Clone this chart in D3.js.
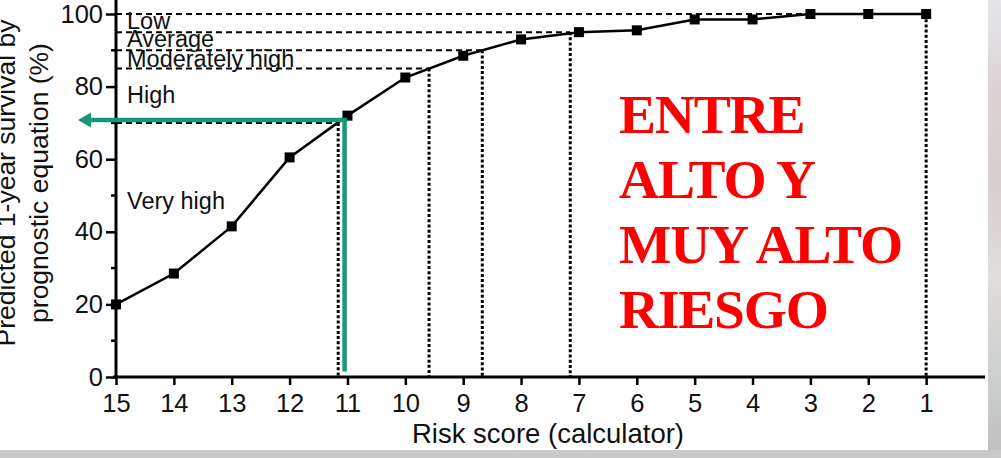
<!DOCTYPE html>
<html>
<head>
<meta charset="utf-8">
<script src="https://cdn.jsdelivr.net/npm/d3@7"></script>
<style>
  html, body { margin: 0; padding: 0; background: #d9d9d9; overflow: hidden; }
  svg { display: block; }
</style>
</head>
<body>
<svg id="chart" width="1001" height="458"></svg>
<script>
// ---- data ----
const riskScores = [15, 14, 13, 12, 11, 10, 9, 8, 7, 6, 5, 4, 3, 2, 1];
const survival   = [20, 28.5, 41.5, 60.5, 72, 82.5, 88.5, 93, 95, 95.5, 98.5, 98.5, 100, 100, 100];
const yMajorTicks = [0, 20, 40, 60, 80, 100];
const yMinorTicks = [10, 30, 50, 70, 90];
// cut-off thresholds (survival %) and the risk score where the curve crosses them
const cutSurvival = [70, 85, 90, 95, 100];
const cutScore    = [11.16, 9.59, 8.67, 7.15, 1];
const riskLabels  = ["Low", "Average", "Moderately high", "High", "Very high"];
const riskLabelY  = [95.9, 90.9, 85.4, 75.5, 46.3];
const highlightScore = 11.05;
const highlightSurvival = 70.8;
const noteLines = ["ENTRE", "ALTO Y", "MUY ALTO", "RIESGO"];
const xTitle = "Risk score (calculator)";
const yTitle = ["Predicted 1-year survival by", "prognostic equation (%)"];

// ---- layout ----
const svg = d3.select("#chart");
const W = 1001, H = 458;
const mLeft = 116, mRight = 984, mTop = 14, mBottom = 377;

const x = d3.scaleLinear().domain([15, 0]).range([mLeft, mRight]);
const y = d3.scaleLinear().domain([0, 100]).range([mBottom, mTop]);

const FONT = "'Liberation Sans', Arial, Helvetica, sans-serif";

// background: grey photo around a white card
const defs = svg.append("defs");
const g1 = defs.append("linearGradient").attr("id", "bgR").attr("x1", 0).attr("y1", 0).attr("x2", 0).attr("y2", 1);
[["0%", "#e4e6ea"], ["20%", "#dcd2d4"], ["40%", "#d6cfcf"], ["60%", "#e0ddda"], ["80%", "#cfd1d1"], ["100%", "#bfbfbf"]]
  .forEach(s => g1.append("stop").attr("offset", s[0]).attr("stop-color", s[1]));
svg.append("rect").attr("x", 0).attr("y", 0).attr("width", W).attr("height", H).attr("fill", "url(#bgR)");
svg.append("rect").attr("x", 0).attr("y", 450).attr("width", W).attr("height", 8).attr("fill", "#c9c9c9");
svg.append("rect").attr("x", 0).attr("y", 0).attr("width", 988).attr("height", 450).attr("fill", "#ffffff");

// ---- reference lines ----
const refG = svg.append("g");
cutSurvival.forEach((s, i) => {
  refG.append("line")
    .attr("x1", mLeft).attr("x2", x(cutScore[i]))
    .attr("y1", y(s)).attr("y2", y(s))
    .attr("stroke", "#000").attr("stroke-width", 2)
    .attr("stroke-dasharray", "6,4");
  refG.append("line")
    .attr("x1", x(cutScore[i])).attr("x2", x(cutScore[i]))
    .attr("y1", y(s)).attr("y2", mBottom)
    .attr("stroke", "#000").attr("stroke-width", 3)
    .attr("stroke-dasharray", "3,2.2");
});

// risk labels
riskLabels.forEach((t, i) => {
  svg.append("text")
    .attr("x", 127).attr("y", y(riskLabelY[i]))
    .attr("font-family", FONT).attr("font-size", 23.5)
    .attr("fill", "#111")
    .text(t);
});

// ---- axes ----
const yAxis = d3.axisLeft(y).tickValues(yMajorTicks).tickSize(10).tickPadding(3).tickSizeOuter(0);
const yg = svg.append("g").attr("transform", `translate(${mLeft},0)`).call(yAxis);
yg.select(".domain").remove();
yg.selectAll(".tick line").attr("stroke", "#000").attr("stroke-width", 2.5);
yg.selectAll(".tick text").attr("font-family", FONT).attr("font-size", 25.5).attr("fill", "#111");
yg.append("line").attr("x1", 0).attr("x2", 0).attr("y1", y(104)).attr("y2", mBottom + 1.5)
  .attr("stroke", "#000").attr("stroke-width", 3);
yg.selectAll(".minor").data(yMinorTicks).enter().append("line")
  .attr("x1", -5).attr("x2", 0).attr("y1", d => y(d)).attr("y2", d => y(d))
  .attr("stroke", "#000").attr("stroke-width", 2.5);

const xAxis = d3.axisBottom(x).tickValues(riskScores).tickFormat(d3.format("d")).tickSize(8).tickSizeOuter(0);
const xg = svg.append("g").attr("transform", `translate(0,${mBottom})`).call(xAxis);
xg.select(".domain").remove();
xg.append("line").attr("x1", mLeft - 3).attr("x2", mRight + 1).attr("y1", 0).attr("y2", 0)
  .attr("stroke", "#000").attr("stroke-width", 3);
xg.selectAll(".tick line").attr("stroke", "#000").attr("stroke-width", 2.5);
xg.selectAll(".tick text").attr("font-family", FONT).attr("font-size", 25.5).attr("fill", "#111")
  .attr("dy", 0).attr("y", 35);

// axis titles
svg.append("text").attr("x", 548).attr("y", 443).attr("text-anchor", "middle")
  .attr("font-family", FONT).attr("font-size", 27.5).attr("fill", "#111").text(xTitle);
yTitle.forEach((t, i) => {
  svg.append("text")
    .attr("transform", `translate(${15 + i * 33},183) rotate(-90)`)
    .attr("text-anchor", "middle")
    .attr("font-family", FONT).attr("font-size", 26.5).attr("fill", "#111").text(t);
});

// ---- data line ----
const pts = riskScores.map((r, i) => [r, survival[i]]);
svg.append("path").datum(pts)
  .attr("d", d3.line().x(d => x(d[0])).y(d => y(d[1])))
  .attr("fill", "none").attr("stroke", "#000").attr("stroke-width", 2.5);
svg.selectAll(".pt").data(pts).enter().append("rect")
  .attr("x", d => x(d[0]) - 5).attr("y", d => y(d[1]) - 5)
  .attr("width", 10).attr("height", 10).attr("fill", "#000");

// ---- green highlight arrow ----
const GREEN = "#159a76";
const hx = x(highlightScore), hy = y(highlightSurvival);
svg.append("line")
  .attr("x1", hx).attr("x2", hx)
  .attr("y1", y(1.5)).attr("y2", hy - 2)
  .attr("stroke", GREEN).attr("stroke-width", 4.5);
svg.append("line")
  .attr("x1", hx + 2).attr("x2", 88)
  .attr("y1", hy).attr("y2", hy)
  .attr("stroke", GREEN).attr("stroke-width", 4.5);
svg.append("path")
  .attr("d", `M78,${hy} L91,${hy - 7.5} L91,${hy + 7.5} Z`)
  .attr("fill", GREEN);

// ---- red note ----
noteLines.forEach((t, i) => {
  svg.append("text")
    .attr("x", 619).attr("y", 133 + i * 65)
    .attr("font-family", "'Liberation Serif', 'Times New Roman', Times, serif")
    .attr("font-weight", "bold").attr("font-size", 55.5)
    .attr("letter-spacing", -1.2)
    .attr("fill", "#ff0000")
    .text(t);
});
</script>
</body>
</html>
